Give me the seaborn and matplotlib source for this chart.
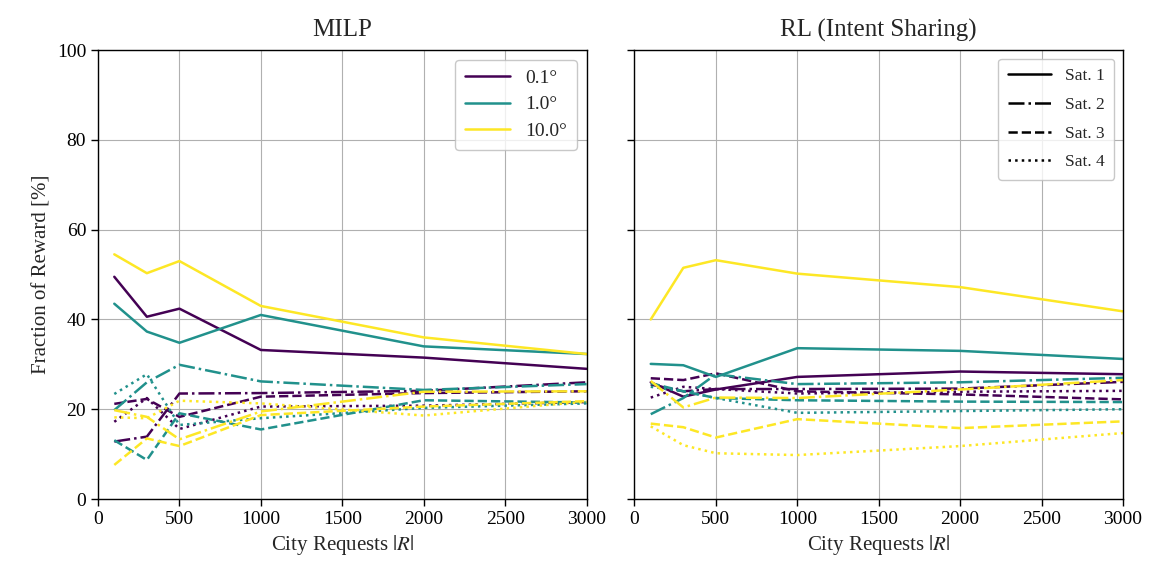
import numpy as np
import pandas as pd
import matplotlib
matplotlib.use("Agg")
import matplotlib.pyplot as plt
from matplotlib.lines import Line2D
import seaborn as sns

# ---------------- data ----------------
requests = [100, 300, 500, 1000, 2000, 3000]
angles = ["0.1°", "1.0°", "10.0°"]
sats = ["Sat. 1", "Sat. 2", "Sat. 3", "Sat. 4"]

# MILP
milp_01_s1 = [49.5, 40.6, 42.4, 33.2, 31.5, 29.0]
milp_01_s2 = [12.8, 13.9, 23.5, 23.6, 24.1, 26.0]
milp_01_s3 = [21.2, 22.3, 18.3, 22.8, 23.6, 24.0]
milp_01_s4 = [17.2, 22.5, 15.6, 20.6, 20.8, 21.6]
milp_1_s1 = [43.5, 37.3, 34.8, 41.0, 34.0, 32.3]
milp_1_s2 = [19.8, 26.0, 29.9, 26.2, 24.3, 25.6]
milp_1_s3 = [13.1, 8.7, 19.1, 15.5, 22.0, 21.5]
milp_1_s4 = [23.4, 27.8, 16.5, 18.0, 20.3, 21.3]
milp_10_s1 = [54.5, 50.3, 53.0, 43.0, 36.0, 32.3]
milp_10_s2 = [19.8, 18.3, 13.3, 19.5, 23.9, 24.0]
milp_10_s3 = [7.6, 13.5, 11.8, 18.7, 20.6, 21.8]
milp_10_s4 = [18.2, 18.0, 21.9, 21.3, 18.6, 21.7]

# RL (Intent Sharing)
rl_01_s1 = [26.0, 22.8, 24.4, 27.2, 28.4, 27.8]
rl_01_s2 = [25.5, 24.0, 24.5, 24.5, 24.6, 26.1]
rl_01_s3 = [26.9, 26.5, 28.0, 24.0, 23.3, 22.2]
rl_01_s4 = [22.6, 25.0, 24.5, 23.5, 23.9, 24.1]
rl_1_s1 = [30.1, 29.8, 27.2, 33.6, 33.0, 31.2]
rl_1_s2 = [18.9, 22.5, 27.8, 25.6, 26.0, 27.0]
rl_1_s3 = [25.8, 24.0, 22.5, 22.0, 21.7, 21.6]
rl_1_s4 = [25.0, 24.0, 22.5, 19.2, 19.6, 20.0]
rl_10_s1 = [40.0, 51.5, 53.2, 50.2, 47.2, 41.8]
rl_10_s2 = [26.3, 20.4, 22.6, 22.5, 24.4, 26.5]
rl_10_s3 = [16.8, 16.0, 13.7, 17.8, 15.8, 17.3]
rl_10_s4 = [16.2, 12.0, 10.2, 9.8, 11.8, 14.7]

milp = {"0.1°": [milp_01_s1, milp_01_s2, milp_01_s3, milp_01_s4],
        "1.0°": [milp_1_s1, milp_1_s2, milp_1_s3, milp_1_s4],
        "10.0°": [milp_10_s1, milp_10_s2, milp_10_s3, milp_10_s4]}
rl = {"0.1°": [rl_01_s1, rl_01_s2, rl_01_s3, rl_01_s4],
      "1.0°": [rl_1_s1, rl_1_s2, rl_1_s3, rl_1_s4],
      "10.0°": [rl_10_s1, rl_10_s2, rl_10_s3, rl_10_s4]}


def to_long(d):
    rows = []
    for a in angles:
        for s, vals in zip(sats, d[a]):
            for r, v in zip(requests, vals):
                rows.append({"R": r, "frac": v, "angle": a, "sat": s})
    return pd.DataFrame(rows)


df_milp = to_long(milp)
df_rl = to_long(rl)

# ---------------- style ----------------
sns.set_theme(style="ticks")
plt.rcParams["font.family"] = ["Liberation Serif", "DejaVu Serif"]
plt.rcParams["mathtext.fontset"] = "stix"
plt.rcParams["axes.edgecolor"] = "black"
plt.rcParams["xtick.color"] = "black"
plt.rcParams["ytick.color"] = "black"

viridis = plt.get_cmap("viridis")
palette = {"0.1°": viridis(0.0), "1.0°": viridis(0.5), "10.0°": viridis(1.0)}
dashes = {"Sat. 1": "", "Sat. 2": (6.4, 1.6, 1.0, 1.6),
          "Sat. 3": (3.7, 1.6), "Sat. 4": (1.0, 1.65)}
styles_mpl = {"Sat. 1": "-", "Sat. 2": "-.", "Sat. 3": "--", "Sat. 4": ":"}

fig, axes = plt.subplots(1, 2, figsize=(11.49, 5.71), dpi=100, sharey=True)
fig.subplots_adjust(left=0.0853, right=0.9774, top=0.9124, bottom=0.126, wspace=0.098)

for ax, df, title in zip(axes, [df_milp, df_rl], ["MILP", "RL (Intent Sharing)"]):
    sns.lineplot(data=df, x="R", y="frac", hue="angle", style="sat",
                 hue_order=angles, style_order=sats, palette=palette,
                 dashes=dashes, linewidth=1.8, legend=False, ax=ax)
    ax.set_xlim(0, 3000)
    ax.set_ylim(0, 100)
    ax.set_xticks([0, 500, 1000, 1500, 2000, 2500, 3000])
    ax.set_yticks([0, 20, 40, 60, 80, 100])
    ax.grid(True, color="#b0b0b0", linewidth=0.8)
    ax.set_axisbelow(True)
    ax.set_title(title, fontsize=18, pad=10)
    ax.set_xlabel(r"City Requests $|R|$", fontsize=15)
    ax.tick_params(labelsize=14, length=5, width=1, direction="out")
    for sp in ax.spines.values():
        sp.set_linewidth(1.0)
        sp.set_color("black")

axes[0].set_ylabel("Fraction of Reward [%]", fontsize=15)
axes[1].set_ylabel("")

h1 = [Line2D([0], [0], color=palette[a], lw=1.8) for a in angles]
axes[0].legend(h1, angles, loc="upper right", fontsize=14, frameon=True,
               edgecolor="#bbbbbb", fancybox=True, borderpad=0.5,
               handlelength=2.3, labelspacing=0.45)
h2 = [Line2D([0], [0], color="black", lw=1.8, linestyle=styles_mpl[s]) for s in sats]
axes[1].legend(h2, sats, loc="upper right", fontsize=12.5, frameon=True,
               edgecolor="#bbbbbb", fancybox=True, borderpad=0.55,
               handlelength=2.5, labelspacing=0.72)

fig.savefig("out.png", dpi=100)
